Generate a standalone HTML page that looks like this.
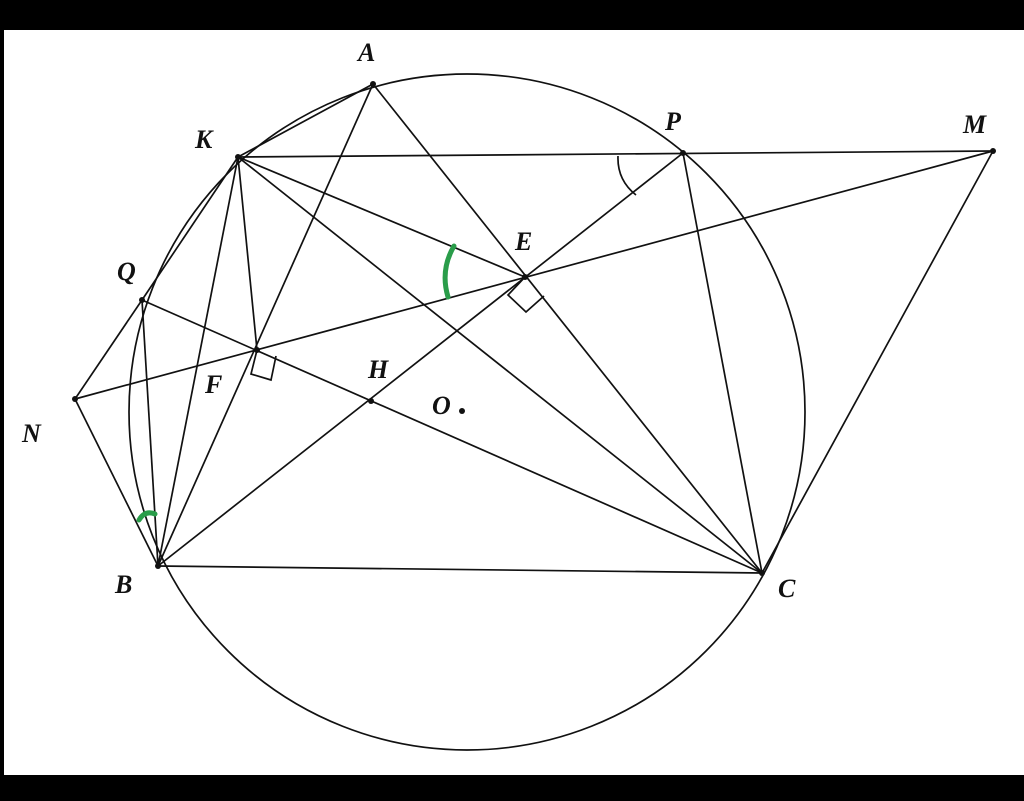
<!DOCTYPE html>
<html><head><style>
html,body{margin:0;padding:0;background:#000;}
svg{display:block;}
text{font-family:"Liberation Serif",serif;font-weight:bold;font-style:italic;font-size:26px;fill:#111;}
</style></head><body>
<svg width="1024" height="801" viewBox="0 0 1024 801">
<rect x="0" y="0" width="1024" height="801" fill="#000"/>
<rect x="4" y="30" width="1020" height="745" fill="#fff"/>
<g stroke="#111" stroke-width="1.7" fill="none">
<circle cx="467" cy="412" r="338"/>
<line x1="238" y1="157" x2="993" y2="151"/>
<line x1="238" y1="157" x2="373" y2="84"/>
<line x1="373" y1="84" x2="158" y2="566"/>
<line x1="373" y1="84" x2="762" y2="573"/>
<line x1="238" y1="157" x2="142" y2="300"/>
<line x1="142" y1="300" x2="75" y2="399"/>
<line x1="75" y1="399" x2="158" y2="566"/>
<line x1="75" y1="399" x2="993" y2="151"/>
<line x1="142" y1="300" x2="762" y2="573"/>
<line x1="158" y1="566" x2="683" y2="153"/>
<line x1="238" y1="157" x2="158" y2="566"/>
<line x1="238" y1="157" x2="257" y2="350"/>
<line x1="238" y1="157" x2="525" y2="277"/>
<line x1="238" y1="157" x2="762" y2="573"/>
<line x1="142" y1="300" x2="158" y2="566"/>
<line x1="158" y1="566" x2="762" y2="573"/>
<line x1="683" y1="153" x2="762" y2="573"/>
<line x1="993" y1="151" x2="762" y2="573"/>
<path d="M257,350 L251,374 L271,380 L276,356"/>
<path d="M525,277 L508,295 L526,312 L544,296"/>
<path d="M618,156 Q617,180 636,195"/>
</g>
<g stroke="#2a9d4a" stroke-width="5" fill="none" stroke-linecap="round">
<path d="M454,246 Q440,270 448,297"/>
<path d="M139,520 Q145,510 155,514"/>
</g>
<g fill="#111">
<circle cx="373" cy="84" r="3"/><circle cx="238" cy="157" r="3"/><circle cx="683" cy="153" r="3"/>
<circle cx="993" cy="151" r="3"/><circle cx="525" cy="277" r="3"/><circle cx="142" cy="300" r="3"/>
<circle cx="257" cy="350" r="3"/><circle cx="371" cy="401" r="3"/><circle cx="75" cy="399" r="3"/>
<circle cx="158" cy="566" r="3"/><circle cx="762" cy="573" r="3"/><circle cx="462" cy="411" r="3"/>
</g>
<text x="358" y="61">A</text>
<text x="195" y="148">K</text>
<text x="665" y="130">P</text>
<text x="963" y="133">M</text>
<text x="515" y="250">E</text>
<text x="117" y="280">Q</text>
<text x="205" y="393">F</text>
<text x="368" y="378">H</text>
<text x="432" y="414">O</text>
<text x="22" y="442">N</text>
<text x="115" y="593">B</text>
<text x="778" y="597">C</text>
</svg>
</body></html>
